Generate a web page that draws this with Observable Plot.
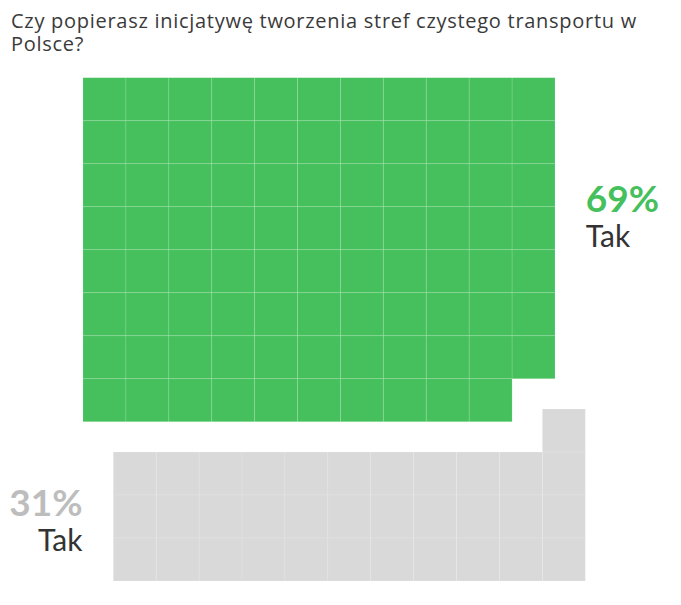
<!DOCTYPE html>
<html>
<head>
<meta charset="utf-8">
<script src="https://cdn.jsdelivr.net/npm/d3@7"></script>
<script src="https://cdn.jsdelivr.net/npm/@observablehq/plot@0.6"></script>
<style>
  html, body { margin: 0; padding: 0; background: #fff; }
  #title { box-sizing: border-box; height: 60px; padding: 10px 0 0 11px; font-family: "Open Sans", sans-serif; font-size: 20px; letter-spacing: 0.72px; line-height: 22.5px; color: #3a3a3a; white-space: nowrap; }
</style>
</head>
<body>
<div id="title">Czy popierasz inicjatywę tworzenia stref czystego transportu w<br>Polsce?</div>
<div id="chart"></div>
<script>
// Data
const title = "Czy popierasz inicjatywę tworzenia stref czystego transportu w Polsce?";
const answers = ["Tak", "Tak"];          // labels as shown in the chart
const percents = [69, 31];               // percentages shown
const cellCounts = [87, 34];             // waffle cells drawn for each group (11 x 11 grid)
const colors = ["#45c05c", "#d9d9d9"];
const labelColors = ["#45c05c", "#bdbdbd"];
const gridCols = 11;

// Build cells: fill row by row from the top
const cells = [];
let idx = 0;
cellCounts.forEach((n, g) => {
  for (let k = 0; k < n; k++, idx++) {
    cells.push({group: g, col: idx % gridCols, row: Math.floor(idx / gridCols)});
  }
});
const rows = Math.ceil(idx / gridCols);

const labelData = [
  {g: 0, pct: percents[0] + "%", name: answers[0], x: 11.0, yPct: 2.4, yName: 3.22, anchor: "start"},
  {g: 1, pct: percents[1] + "%", name: answers[1], x: -0.73, yPct: 9.48, yName: 10.3, anchor: "end"}
];

const cellMark = (g, shift) => Plot.rect(cells.filter(d => d.group === g), {
  x1: d => d.col, x2: d => d.col + 1,
  y1: d => d.row, y2: d => d.row + 1,
  fill: colors[g], stroke: "white", strokeOpacity: 0.12, strokeWidth: 1,
  dx: shift, dy: shift
});

const chart = Plot.plot({
  width: 681,
  height: 545,
  margin: 0,
  x: {domain: [0, gridCols], range: [113.3, 585.3], axis: null},
  y: {domain: [0, rows], range: [48, 521], axis: null},
  marks: [
    cellMark(0, -30.3),
    cellMark(1, 0),
    ...labelData.map(d => Plot.text([d], {
      x: "x", y: "yPct", text: "pct", textAnchor: d.anchor, lineAnchor: "bottom",
      fill: labelColors[d.g], fontSize: 37, fontWeight: 700, fontFamily: "Lato, sans-serif"
    })),
    ...labelData.map(d => Plot.text([d], {
      x: "x", y: "yName", text: "name", textAnchor: d.anchor, lineAnchor: "bottom",
      fill: "#333", fontSize: 30, fontFamily: "Lato, sans-serif"
    }))
  ]
});
document.getElementById("chart").appendChild(chart);
</script>
</body>
</html>
